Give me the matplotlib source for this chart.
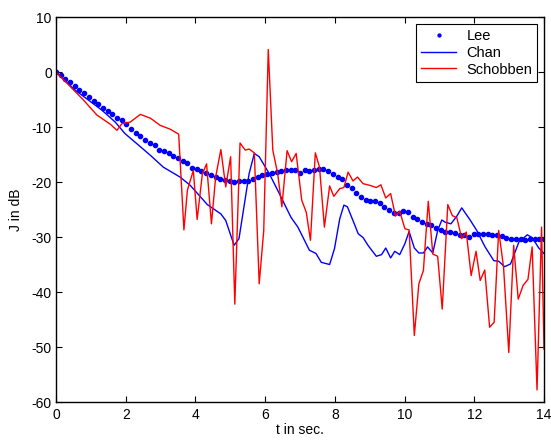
import numpy as np
import matplotlib
matplotlib.use("Agg")
import matplotlib.pyplot as plt

plt.rcParams['font.family'] = ['Liberation Sans', 'DejaVu Sans']
plt.rcParams['axes.unicode_minus'] = False

# ---------------- data ----------------
lee_t = np.linspace(0, 14, 105)
lee_y = [0.0, -0.5, -1.2, -1.9, -2.5, -3.2, -3.8, -4.6, -5.2, -5.8,
         -6.5, -7.1, -7.7, -8.3, -8.8, -9.4, -10.3, -11.0, -11.7, -12.3,
         -12.9, -13.3, -14.1, -14.3, -14.8, -15.3, -15.7, -16.2, -16.5, -17.4,
         -17.6, -18.0, -18.4, -18.8, -19.1, -19.4, -19.6, -19.8, -20.0, -19.9,
         -19.9, -19.8, -19.4, -19.1, -18.8, -18.5, -18.3, -18.1, -18.0, -17.9,
         -17.9, -17.9, -18.3, -17.9, -18.0, -17.9, -17.7, -17.6, -18.0, -18.6,
         -19.1, -19.5, -20.6, -21.0, -22.0, -22.7, -23.3, -23.5, -23.5, -23.8,
         -24.5, -25.0, -25.6, -25.6, -25.3, -25.5, -26.4, -26.7, -27.3, -27.6,
         -27.9, -28.3, -28.7, -29.0, -29.0, -29.2, -29.6, -29.7, -30.0, -29.4,
         -29.4, -29.5, -29.5, -29.6, -29.7, -29.9, -30.2, -30.4, -30.4, -30.4,
         -30.6, -30.4, -30.3, -30.3, -30.3]

chan_t = [0.0, 0.55, 1.31, 1.70, 1.98, 2.37, 2.70, 3.08, 3.56, 3.85,
          4.23, 4.34, 4.73, 4.87, 5.11, 5.25, 5.54, 5.69, 5.83, 6.12,
          6.36, 6.74, 6.94, 7.27, 7.46, 7.61, 7.85, 7.99, 8.14, 8.26,
          8.36, 8.52, 8.67, 8.81, 8.95, 9.19, 9.34, 9.46, 9.60, 9.72,
          9.86, 10.01, 10.13, 10.28, 10.41, 10.54, 10.66, 10.81, 10.95, 11.07,
          11.16, 11.33, 11.50, 11.64, 11.88, 12.07, 12.31, 12.56, 12.70, 12.87,
          13.04, 13.28, 13.52, 13.66, 13.85, 14.0]
chan_y = [0.0, -3.3, -6.9, -9.1, -11.2, -13.3, -15.1, -17.3, -19.1, -20.6,
          -23.3, -24.1, -25.8, -27.0, -31.5, -30.3, -18.5, -14.8, -15.4, -18.5,
          -21.5, -26.4, -28.2, -32.4, -33.0, -34.6, -35.0, -32.1, -26.7, -24.2,
          -24.5, -27.0, -29.4, -30.1, -31.5, -33.5, -33.2, -32.0, -33.8, -32.6,
          -33.2, -31.2, -29.0, -32.0, -32.9, -32.9, -31.8, -32.9, -28.8, -26.9,
          -27.3, -27.6, -26.2, -24.7, -26.9, -28.8, -31.8, -34.3, -34.4, -35.4,
          -34.9, -30.9, -29.6, -30.1, -32.0, -33.0]

schob_t = [0.0, 0.79, 1.17, 1.56, 1.75, 1.89, 2.13, 2.42, 2.71, 2.99,
           3.28, 3.52, 3.67, 3.77, 3.94, 4.05, 4.20, 4.32, 4.46, 4.58,
           4.73, 4.87, 5.01, 5.13, 5.28, 5.43, 5.54, 5.69, 5.83, 5.96,
           6.09, 6.22, 6.36, 6.48, 6.63, 6.76, 6.89, 7.05, 7.18, 7.30,
           7.44, 7.56, 7.70, 7.85, 7.97, 8.14, 8.26, 8.38, 8.52, 8.65,
           8.81, 9.00, 9.19, 9.32, 9.46, 9.60, 9.74, 9.86, 10.01, 10.13,
           10.28, 10.41, 10.54, 10.68, 10.81, 10.95, 11.08, 11.24, 11.37, 11.50,
           11.64, 11.77, 11.91, 12.05, 12.17, 12.30, 12.44, 12.57, 12.70, 12.84,
           12.99, 13.13, 13.26, 13.40, 13.54, 13.66, 13.80, 13.93, 14.0]
schob_y = [0.0, -5.1, -7.8, -9.5, -10.6, -9.4, -9.1, -7.7, -8.4, -9.7,
           -10.4, -11.3, -28.7, -21.5, -17.9, -26.8, -18.5, -16.7, -27.6, -19.1,
           -14.1, -20.9, -15.4, -42.2, -12.9, -14.2, -14.0, -14.7, -38.5, -28.8,
           4.1, -14.2, -18.5, -24.5, -14.3, -16.3, -14.8, -23.3, -25.5, -30.6,
           -14.7, -17.3, -28.2, -20.7, -22.6, -21.2, -21.0, -18.2, -19.8, -19.1,
           -20.3, -20.6, -21.0, -20.5, -22.9, -22.1, -26.2, -25.3, -28.5, -28.7,
           -47.9, -38.5, -36.1, -23.5, -33.1, -33.5, -43.1, -24.1, -26.1, -26.5,
           -30.3, -29.1, -37.0, -32.6, -37.9, -36.0, -46.4, -45.5, -28.8, -35.5,
           -51.0, -31.5, -41.3, -38.8, -37.7, -31.8, -57.8, -28.2, -50.4]

x_ticks = [0, 2, 4, 6, 8, 10, 12, 14]
y_ticks = [-60, -50, -40, -30, -20, -10, 0, 10]

# ---------------- plot ----------------
fig = plt.figure(figsize=(5.51, 4.41), dpi=100)
ax = fig.add_axes([0.1016, 0.0884, 0.8857, 0.873])

ax.plot(lee_t, lee_y, linestyle='none', marker='o', markersize=3.0,
        color=(0, 0, 1), label='Lee')
ax.plot(chan_t, chan_y, color=(0, 0, 1), linewidth=1.0, label='Chan')
ax.plot(schob_t, schob_y, color=(1, 0, 0), linewidth=1.0, label='Schobben')

ax.set_xlim(0, 14)
ax.set_ylim(-60, 10)
ax.set_xticks(x_ticks)
ax.set_yticks(y_ticks)
ax.tick_params(direction='in', top=True, right=True, length=4.5, width=0.8,
               labelsize=10, colors='black')
ax.tick_params(axis='x', pad=4)
ax.tick_params(axis='y', pad=3)
for s in ax.spines.values():
    s.set_linewidth(1.0)
    s.set_color('black')

ax.set_xlabel('t in sec.', fontsize=10, labelpad=1)
ax.set_ylabel('J in dB', fontsize=10, labelpad=6)

leg = ax.legend(loc='upper right', fontsize=10.5, fancybox=False, framealpha=1,
                edgecolor='black', handlelength=2.4, borderaxespad=0.45,
                borderpad=0.35, labelspacing=0.2, handletextpad=0.7,
                markerscale=0.7)
leg.get_frame().set_linewidth(0.8)

fig.savefig('out.png', dpi=100)
